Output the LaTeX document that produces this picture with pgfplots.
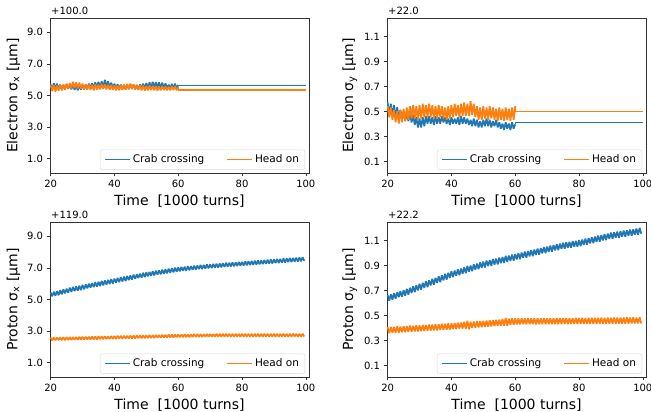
\documentclass[border=0pt]{standalone}
\usepackage{fontspec}
\setmainfont{DejaVu Sans}
\usepackage{pgfplots}
\pgfplotsset{compat=1.18}
\definecolor{tabblue}{HTML}{1F77B4}
\definecolor{taborange}{HTML}{FF7F0E}
\tikzset{offs/.style={anchor=south west, inner sep=0pt, font=\fontsize{10}{12}\selectfont}}
\pgfplotsset{
  panel/.style={
    scale only axis, width=259pt, height=155pt,
    xmin=19.8, xmax=101, xtick={20,40,60,80,100},
    axis line style={black!80, line width=0.6pt},
    tick align=outside, major tick length=3.5pt,
    tick style={black!80, line width=0.6pt},
    xtick pos=bottom, ytick pos=left,
    /pgf/number format/assume math mode=true,
    tick label style={font=\fontsize{10}{12}\selectfont},
    yticklabel style={/pgf/number format/.cd, fixed, fixed zerofill, precision=1},
    label style={font=\fontsize{14}{17}\selectfont},
    xlabel={Time\ \ [1000 turns]},
    legend columns=2,
    legend cell align=left,
    legend style={at={(rel axis cs:0.985,0.022)}, anchor=south east,
      draw=black!15, rounded corners=2pt, fill=white, fill opacity=0.8, text opacity=1,
      font=\fontsize{10.5}{12}\selectfont, inner xsep=4pt, inner ysep=3pt,
      /tikz/every even column/.append style={column sep=20pt}},
  },
  leftp/.style={panel, ymin=0.1, ymax=9.9, ytick={1,3,5,7,9}},
  rightp/.style={panel, ymin=0.01, ymax=1.25, ytick={0.1,0.3,0.5,0.7,0.9,1.1}},
  noisy/.style={line width=1.7pt, line join=bevel},
  constseg/.style={line width=1.1pt},
  bleg/.style={legend image code/.code={\draw[tabblue, line width=1.4pt] (0pt,0pt) -- (22pt,0pt);\path (0pt,0pt) -- (25pt,0pt);}},
  oleg/.style={legend image code/.code={\draw[taborange, line width=1.4pt] (0pt,0pt) -- (22pt,0pt);\path (0pt,0pt) -- (25pt,0pt);}},
}
\begin{document}
\begin{tikzpicture}
\path[use as bounding box] (0,0) rectangle (651pt,412pt);

% ---------------- top left ----------------
\begin{axis}[leftp, name=tl, at={(50pt,239pt)}, anchor=south west,
  ylabel={Electron σ\textsubscript{x} [μm]}]
\addplot[tabblue, noisy, bleg] coordinates {
(20,5.72)(20.5,5.38)(21,5.77)(21.5,5.43)(22,5.75)(22.5,5.41)(23,5.69)(23.5,5.39)(24,5.67)(24.5,5.43)
(25,5.71)(25.5,5.45)(26,5.69)(26.5,5.39)(27,5.67)(27.5,5.35)(28,5.65)(28.5,5.33)(29,5.63)(29.5,5.37)
(30,5.67)(30.5,5.39)(31,5.71)(31.5,5.43)(32,5.75)(32.5,5.45)(33,5.77)(33.5,5.47)(34,5.85)(34.5,5.49)
(35,5.87)(35.5,5.51)(36,5.89)(36.5,5.53)(37,5.99)(37.5,5.55)(38,5.89)(38.5,5.51)(39,5.81)(39.5,5.47)
(40,5.75)(40.5,5.43)(41,5.71)(41.5,5.41)(42,5.69)(42.5,5.39)(43,5.67)(43.5,5.39)(44,5.69)(44.5,5.41)
(45,5.71)(45.5,5.43)(46,5.69)(46.5,5.39)(47,5.67)(47.5,5.37)(48,5.71)(48.5,5.41)(49,5.75)(49.5,5.45)
(50,5.79)(50.5,5.47)(51,5.83)(51.5,5.49)(52,5.87)(52.5,5.51)(53,5.85)(53.5,5.49)(54,5.83)(54.5,5.47)
(55,5.81)(55.5,5.45)(56,5.77)(56.5,5.43)(57,5.69)(57.5,5.41)(58,5.73)(58.5,5.43)(59,5.75)(59.5,5.45)
(60,5.67)};
\addlegendentry{Crab crossing}
\addplot[tabblue, constseg, forget plot] coordinates {(60,5.67)(60,5.65)(100,5.65)};
\addplot[taborange, noisy, oleg] coordinates {
(20,5.67)(20.5,5.28)(21,5.65)(21.5,5.25)(22,5.63)(22.5,5.31)(23,5.67)(23.5,5.33)(24,5.69)(24.5,5.35)
(25,5.75)(25.5,5.41)(26,5.79)(26.5,5.45)(27,5.87)(27.5,5.47)(28,5.83)(28.5,5.45)(29,5.81)(29.5,5.43)
(30,5.75)(30.5,5.39)(31,5.71)(31.5,5.37)(32,5.69)(32.5,5.35)(33,5.67)(33.5,5.33)(34,5.71)(34.5,5.37)
(35,5.69)(35.5,5.39)(36,5.73)(36.5,5.41)(37,5.71)(37.5,5.39)(38,5.69)(38.5,5.37)(39,5.67)(39.5,5.35)
(40,5.65)(40.5,5.33)(41,5.63)(41.5,5.33)(42,5.67)(42.5,5.35)(43,5.69)(43.5,5.37)(44,5.73)(44.5,5.39)
(45,5.75)(45.5,5.41)(46,5.71)(46.5,5.39)(47,5.67)(47.5,5.35)(48,5.65)(48.5,5.33)(49,5.63)(49.5,5.31)
(50,5.61)(50.5,5.33)(51,5.63)(51.5,5.35)(52,5.61)(52.5,5.33)(53,5.59)(53.5,5.31)(54,5.57)(54.5,5.33)
(55,5.59)(55.5,5.35)(56,5.57)(56.5,5.33)(57,5.55)(57.5,5.33)(58,5.57)(58.5,5.35)(59,5.59)(59.5,5.33)
(60,5.52)};
\addlegendentry{Head on}
\addplot[taborange, constseg, forget plot] coordinates {(60,5.52)(60,5.35)(100,5.35)};
\end{axis}
\node[offs] at ([xshift=1pt,yshift=3pt]tl.north west) {+100.0};

% ---------------- top right ----------------
\begin{axis}[rightp, name=tr, at={(387pt,239pt)}, anchor=south west,
  ylabel={Electron σ\textsubscript{y} [μm]}]
\addplot[tabblue, noisy, bleg] coordinates {
(20,0.575)(20.5,0.475)(21,0.565)(21.5,0.465)(22,0.555)(22.5,0.455)(23,0.535)(23.5,0.445)(24,0.515)(24.5,0.435)
(25,0.505)(25.5,0.425)(26,0.495)(26.5,0.425)(27,0.485)(27.5,0.415)(28,0.475)(28.5,0.395)(29,0.455)(29.5,0.375)
(30,0.445)(30.5,0.375)(31,0.455)(31.5,0.385)(32,0.465)(32.5,0.405)(33,0.465)(33.5,0.405)(34,0.455)(34.5,0.395)
(35,0.465)(35.5,0.405)(36,0.455)(36.5,0.405)(37,0.465)(37.5,0.415)(38,0.455)(38.5,0.405)(39,0.445)(39.5,0.395)
(40,0.455)(40.5,0.405)(41,0.445)(41.5,0.405)(42,0.455)(42.5,0.395)(43,0.465)(43.5,0.405)(44,0.455)(44.5,0.405)
(45,0.445)(45.5,0.395)(46,0.435)(46.5,0.385)(47,0.445)(47.5,0.385)(48,0.435)(48.5,0.375)(49,0.425)(49.5,0.375)
(50,0.435)(50.5,0.385)(51,0.445)(51.5,0.385)(52,0.435)(52.5,0.375)(53,0.425)(53.5,0.385)(54,0.435)(54.5,0.375)
(55,0.415)(55.5,0.365)(56,0.405)(56.5,0.355)(57,0.415)(57.5,0.365)(58,0.405)(58.5,0.355)(59,0.415)(59.5,0.365)
(60,0.400)};
\addlegendentry{Crab crossing}
\addplot[tabblue, constseg, forget plot] coordinates {(60,0.400)(60,0.415)(100,0.415)};
\addplot[taborange, noisy, oleg] coordinates {
(20,0.545)(20.5,0.455)(21,0.535)(21.5,0.435)(22,0.515)(22.5,0.415)(23,0.505)(23.5,0.405)(24,0.515)(24.5,0.415)
(25,0.525)(25.5,0.425)(26,0.535)(26.5,0.435)(27,0.545)(27.5,0.445)(28,0.555)(28.5,0.445)(29,0.545)(29.5,0.435)
(30,0.555)(30.5,0.445)(31,0.565)(31.5,0.455)(32,0.555)(32.5,0.455)(33,0.565)(33.5,0.455)(34,0.555)(34.5,0.445)
(35,0.545)(35.5,0.445)(36,0.555)(36.5,0.455)(37,0.545)(37.5,0.445)(38,0.535)(38.5,0.435)(39,0.545)(39.5,0.445)
(40,0.555)(40.5,0.455)(41,0.565)(41.5,0.465)(42,0.555)(42.5,0.455)(43,0.565)(43.5,0.465)(44,0.575)(44.5,0.465)
(45,0.565)(45.5,0.465)(46,0.585)(46.5,0.475)(47,0.565)(47.5,0.455)(48,0.545)(48.5,0.435)(49,0.535)(49.5,0.435)
(50,0.545)(50.5,0.445)(51,0.535)(51.5,0.435)(52,0.545)(52.5,0.445)(53,0.535)(53.5,0.435)(54,0.525)(54.5,0.425)
(55,0.535)(55.5,0.435)(56,0.525)(56.5,0.425)(57,0.535)(57.5,0.435)(58,0.525)(58.5,0.425)(59,0.535)(59.5,0.435)
(60,0.545)};
\addlegendentry{Head on}
\addplot[taborange, constseg, forget plot] coordinates {(60,0.545)(60,0.50)(100,0.50)};
\end{axis}
\node[offs] at ([xshift=1pt,yshift=3pt]tr.north west) {+22.0};

% ---------------- bottom left ----------------
\begin{axis}[leftp, name=bl, at={(50pt,35pt)}, anchor=south west,
  ylabel={Proton σ\textsubscript{x} [μm]}]
\addplot[tabblue, noisy, bleg] coordinates {
(20,5.44)(20.5,5.20)(21,5.49)(21.5,5.24)(22,5.53)(22.5,5.27)(23,5.59)(23.5,5.32)(24,5.64)(24.5,5.39)
(25,5.68)(25.5,5.43)(26,5.75)(26.5,5.48)(27,5.79)(27.5,5.53)(28,5.82)(28.5,5.56)(29,5.87)(29.5,5.60)
(30,5.92)(30.5,5.65)(31,5.95)(31.5,5.70)(32,6.00)(32.5,5.75)(33,6.03)(33.5,5.78)(34,6.09)(34.5,5.82)
(35,6.12)(35.5,5.85)(36,6.17)(36.5,5.90)(37,6.20)(37.5,5.95)(38,6.24)(38.5,5.98)(39,6.29)(39.5,6.01)
(40,6.32)(40.5,6.07)(41,6.36)(41.5,6.10)(42,6.41)(42.5,6.14)(43,6.44)(43.5,6.17)(44,6.49)(44.5,6.22)
(45,6.52)(45.5,6.26)(46,6.57)(46.5,6.30)(47,6.60)(47.5,6.35)(48,6.64)(48.5,6.38)(49,6.69)(49.5,6.41)
(50,6.72)(50.5,6.47)(51,6.75)(51.5,6.50)(52,6.79)(52.5,6.52)(53,6.82)(53.5,6.57)(54,6.84)(54.5,6.59)
(55,6.89)(55.5,6.62)(56,6.91)(56.5,6.66)(57,6.95)(57.5,6.69)(58,6.98)(58.5,6.72)(59,7.02)(59.5,6.75)
(60,7.03)(60.5,6.78)(61,7.06)(61.5,6.81)(62,7.07)(62.5,6.82)(63,7.10)(63.5,6.85)(64,7.11)(64.5,6.87)
(65,7.14)(65.5,6.89)(66,7.15)(66.5,6.92)(67,7.18)(67.5,6.93)(68,7.19)(68.5,6.95)(69,7.22)(69.5,6.97)
(70,7.22)(70.5,6.99)(71,7.25)(71.5,7.01)(72,7.26)(72.5,7.02)(73,7.28)(73.5,7.04)(74,7.29)(74.5,7.06)
(75,7.32)(75.5,7.07)(76,7.32)(76.5,7.09)(77,7.35)(77.5,7.10)(78,7.35)(78.5,7.12)(79,7.38)(79.5,7.13)
(80,7.38)(80.5,7.15)(81,7.41)(81.5,7.16)(82,7.42)(82.5,7.18)(83,7.44)(83.5,7.19)(84,7.45)(84.5,7.21)
(85,7.47)(85.5,7.22)(86,7.48)(86.5,7.24)(87,7.50)(87.5,7.25)(88,7.51)(88.5,7.27)(89,7.53)(89.5,7.28)
(90,7.54)(90.5,7.30)(91,7.56)(91.5,7.31)(92,7.57)(92.5,7.33)(93,7.59)(93.5,7.34)(94,7.60)(94.5,7.36)
(95,7.62)(95.5,7.37)(96,7.63)(96.5,7.39)(97,7.65)(97.5,7.40)(98,7.66)(98.5,7.42)(99,7.68)(99.5,7.44)};
\addlegendentry{Crab crossing}
\addplot[taborange, noisy, oleg] coordinates {
(20,2.59)(20.5,2.41)(21,2.60)(21.5,2.42)(22,2.60)(22.5,2.42)(23,2.61)(23.5,2.43)(24,2.61)(24.5,2.43)
(25,2.62)(25.5,2.44)(26,2.62)(26.5,2.44)(27,2.63)(27.5,2.45)(28,2.63)(28.5,2.45)(29,2.64)(29.5,2.46)
(30,2.64)(30.5,2.46)(31,2.65)(31.5,2.47)(32,2.65)(32.5,2.47)(33,2.66)(33.5,2.48)(34,2.66)(34.5,2.48)
(35,2.67)(35.5,2.49)(36,2.67)(36.5,2.49)(37,2.68)(37.5,2.50)(38,2.68)(38.5,2.50)(39,2.69)(39.5,2.51)
(40,2.69)(40.5,2.51)(41,2.70)(41.5,2.52)(42,2.70)(42.5,2.52)(43,2.71)(43.5,2.53)(44,2.71)(44.5,2.53)
(45,2.72)(45.5,2.54)(46,2.72)(46.5,2.54)(47,2.73)(47.5,2.55)(48,2.73)(48.5,2.55)(49,2.74)(49.5,2.56)
(50,2.74)(50.5,2.56)(51,2.75)(51.5,2.57)(52,2.75)(52.5,2.57)(53,2.76)(53.5,2.58)(54,2.76)(54.5,2.58)
(55,2.77)(55.5,2.59)(56,2.77)(56.5,2.59)(57,2.78)(57.5,2.60)(58,2.78)(58.5,2.60)(59,2.79)(59.5,2.61)
(60,2.79)(60.5,2.61)(61,2.79)(61.5,2.62)(62,2.80)(62.5,2.62)(63,2.80)(63.5,2.62)(64,2.80)(64.5,2.63)
(65,2.81)(65.5,2.63)(66,2.81)(66.5,2.63)(67,2.81)(67.5,2.63)(68,2.82)(68.5,2.64)(69,2.82)(69.5,2.64)
(70,2.82)(70.5,2.64)(71,2.82)(71.5,2.64)(72,2.83)(72.5,2.65)(73,2.83)(73.5,2.65)(74,2.83)(74.5,2.65)
(75,2.83)(75.5,2.65)(76,2.83)(76.5,2.65)(77,2.83)(77.5,2.65)(78,2.84)(78.5,2.65)(79,2.83)(79.5,2.65)
(80,2.83)(80.5,2.65)(81,2.84)(81.5,2.65)(82,2.83)(82.5,2.65)(83,2.83)(83.5,2.64)(84,2.84)(84.5,2.65)
(85,2.83)(85.5,2.65)(86,2.83)(86.5,2.65)(87,2.84)(87.5,2.66)(88,2.83)(88.5,2.65)(89,2.83)(89.5,2.65)
(90,2.84)(90.5,2.65)(91,2.83)(91.5,2.65)(92,2.83)(92.5,2.66)(93,2.84)(93.5,2.65)(94,2.83)(94.5,2.65)
(95,2.83)(95.5,2.65)(96,2.84)(96.5,2.66)(97,2.83)(97.5,2.65)(98,2.83)(98.5,2.65)(99,2.84)(99.5,2.66)};
\addlegendentry{Head on}
\end{axis}
\node[offs] at ([xshift=1pt,yshift=3pt]bl.north west) {+119.0};

% ---------------- bottom right ----------------
\begin{axis}[rightp, name=br, at={(387pt,35pt)}, anchor=south west,
  ylabel={Proton σ\textsubscript{y} [μm]}]
\addplot[tabblue, noisy, bleg] coordinates {
(20,0.666)(20.5,0.620)(21,0.672)(21.5,0.628)(22,0.682)(22.5,0.636)(23,0.688)(23.5,0.648)(24,0.698)(24.5,0.651)
(25,0.706)(25.5,0.661)(26,0.716)(26.5,0.669)(27,0.724)(27.5,0.683)(28,0.736)(28.5,0.689)(29,0.744)(29.5,0.703)
(30,0.756)(30.5,0.709)(31,0.764)(31.5,0.723)(32,0.776)(32.5,0.729)(33,0.784)(33.5,0.743)(34,0.796)(34.5,0.749)
(35,0.804)(35.5,0.763)(36,0.816)(36.5,0.769)(37,0.824)(37.5,0.783)(38,0.836)(38.5,0.789)(39,0.844)(39.5,0.803)
(40,0.856)(40.5,0.808)(41,0.862)(41.5,0.820)(42,0.872)(42.5,0.824)(43,0.878)(43.5,0.836)(44,0.888)(44.5,0.840)
(45,0.899)(45.5,0.852)(46,0.902)(46.5,0.856)(47,0.912)(47.5,0.868)(48,0.918)(48.5,0.872)(49,0.928)(49.5,0.884)
(50,0.934)(50.5,0.887)(51,0.942)(51.5,0.897)(52,0.946)(52.5,0.899)(53,0.954)(53.5,0.909)(54,0.958)(54.5,0.911)
(55,0.966)(55.5,0.921)(56,0.970)(56.5,0.923)(57,0.980)(57.5,0.931)(58,0.982)(58.5,0.939)(59,0.990)(59.5,0.941)
(60,0.994)(60.5,0.951)(61,1.002)(61.5,0.953)(62,1.006)(62.5,0.963)(63,1.014)(63.5,0.965)(64,1.018)(64.5,0.975)
(65,1.026)(65.5,0.977)(66,1.030)(66.5,0.987)(67,1.038)(67.5,0.989)(68,1.042)(68.5,0.999)(69,1.050)(69.5,1.001)
(70,1.054)(70.5,1.011)(71,1.062)(71.5,1.013)(72,1.066)(72.5,1.023)(73,1.074)(73.5,1.025)(74,1.078)(74.5,1.035)
(75,1.084)(75.5,1.036)(76,1.090)(76.5,1.044)(77,1.092)(77.5,1.044)(78,1.098)(78.5,1.052)(79,1.100)(79.5,1.052)
(80,1.106)(80.5,1.057)(81,1.110)(81.5,1.067)(82,1.118)(82.5,1.069)(83,1.122)(83.5,1.079)(84,1.130)(84.5,1.081)
(85,1.134)(85.5,1.091)(86,1.142)(86.5,1.093)(87,1.146)(87.5,1.103)(88,1.154)(88.5,1.105)(89,1.158)(89.5,1.115)
(90,1.166)(90.5,1.116)(91,1.168)(91.5,1.124)(92,1.174)(92.5,1.124)(93,1.176)(93.5,1.132)(94,1.182)(94.5,1.132)
(95,1.184)(95.5,1.140)(96,1.190)(96.5,1.140)(97,1.192)(97.5,1.148)(98,1.198)(98.5,1.148)(99,1.204)(99.5,1.156)};
\addlegendentry{Crab crossing}
\addplot[taborange, noisy, oleg] coordinates {
(20,0.409)(20.5,0.361)(21,0.412)(21.5,0.363)(22,0.411)(22.5,0.365)(23,0.415)(23.5,0.365)(24,0.414)(24.5,0.368)
(25,0.418)(25.5,0.368)(26,0.417)(26.5,0.371)(27,0.421)(27.5,0.371)(28,0.420)(28.5,0.374)(29,0.424)(29.5,0.374)
(30,0.423)(30.5,0.377)(31,0.427)(31.5,0.377)(32,0.426)(32.5,0.380)(33,0.430)(33.5,0.380)(34,0.429)(34.5,0.383)
(35,0.433)(35.5,0.383)(36,0.432)(36.5,0.386)(37,0.436)(37.5,0.386)(38,0.435)(38.5,0.389)(39,0.439)(39.5,0.389)
(40,0.439)(40.5,0.392)(41,0.442)(41.5,0.393)(42,0.444)(42.5,0.396)(43,0.445)(43.5,0.397)(44,0.452)(44.5,0.394)
(45,0.460)(45.5,0.392)(46,0.452)(46.5,0.402)(47,0.454)(47.5,0.404)(48,0.455)(48.5,0.406)(49,0.458)(49.5,0.408)
(50,0.459)(50.5,0.410)(51,0.462)(51.5,0.412)(52,0.464)(52.5,0.414)(53,0.466)(53.5,0.416)(54,0.468)(54.5,0.418)
(55,0.470)(55.5,0.420)(56,0.474)(56.5,0.420)(57,0.484)(57.5,0.418)(58,0.478)(58.5,0.426)(59,0.479)(59.5,0.428)
(60,0.480)(60.5,0.431)(61,0.479)(61.5,0.431)(62,0.480)(62.5,0.432)(63,0.479)(63.5,0.431)(64,0.481)(64.5,0.432)
(65,0.479)(65.5,0.432)(66,0.480)(66.5,0.431)(67,0.481)(67.5,0.432)(68,0.480)(68.5,0.432)(69,0.481)(69.5,0.433)
(70,0.480)(70.5,0.432)(71,0.481)(71.5,0.433)(72,0.480)(72.5,0.433)(73,0.482)(73.5,0.433)(74,0.481)(74.5,0.433)
(75,0.482)(75.5,0.434)(76,0.481)(76.5,0.433)(77,0.482)(77.5,0.434)(78,0.481)(78.5,0.434)(79,0.483)(79.5,0.434)
(80,0.482)(80.5,0.434)(81,0.483)(81.5,0.435)(82,0.482)(82.5,0.434)(83,0.484)(83.5,0.435)(84,0.483)(84.5,0.435)
(85,0.484)(85.5,0.435)(86,0.483)(86.5,0.436)(87,0.485)(87.5,0.435)(88,0.484)(88.5,0.436)(89,0.485)(89.5,0.436)
(90,0.484)(90.5,0.436)(91,0.486)(91.5,0.436)(92,0.485)(92.5,0.437)(93,0.486)(93.5,0.437)(94,0.485)(94.5,0.437)
(95,0.487)(95.5,0.437)(96,0.486)(96.5,0.438)(97,0.487)(97.5,0.438)(98,0.486)(98.5,0.438)(99,0.488)(99.5,0.438)};
\addlegendentry{Head on}
\end{axis}
\node[offs] at ([xshift=1pt,yshift=3pt]br.north west) {+22.2};
\end{tikzpicture}
\end{document}
